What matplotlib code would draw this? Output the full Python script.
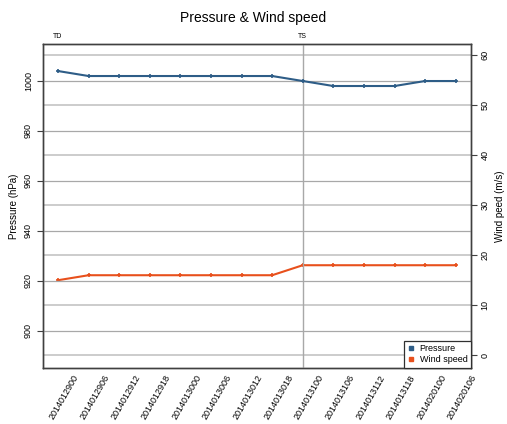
import matplotlib.pyplot as plt
import matplotlib.transforms as mtransforms

plt.rcParams['font.family'] = ['Liberation Sans', 'DejaVu Sans']

times = ["2014012900", "2014012906", "2014012912", "2014012918",
         "2014013000", "2014013006", "2014013012", "2014013018",
         "2014013100", "2014013106", "2014013112", "2014013118",
         "2014020100", "2014020106"]
pressure = [1004, 1002, 1002, 1002, 1002, 1002, 1002, 1002,
            1000, 998, 998, 998, 1000, 1000]
wind = [15, 16, 16, 16, 16, 16, 16, 16,
        18, 18, 18, 18, 18, 18]
grades = {"TD": 0, "TS": 8}

p_color = "#2e5d87"
w_color = "#e8501c"

fig = plt.figure(figsize=(5.07, 4.24), dpi=100)
ax = fig.add_axes([0.0842, 0.1328, 0.8448, 0.7627])
ax2 = ax.twinx()

x = list(range(len(times)))

# grid: left ticks and right ticks both drawn
for v in range(900, 1011, 20):
    ax.axhline(v, color="#a8a8a8", lw=0.9, zorder=0)
for v in range(0, 61, 10):
    ax2.axhline(v, color="#c4c4c4", lw=1.2, zorder=0)

ax.axvline(grades["TS"], color="#a8a8a8", lw=1.0, zorder=1)

ax.plot(x, pressure, color=p_color, lw=1.5, marker="+", ms=3.5, mew=1.2, zorder=3)
ax2.plot(x, wind, color=w_color, lw=1.5, marker="+", ms=3.5, mew=1.2, zorder=3)

ax.set_xlim(-0.5, 13.5)
ax.set_ylim(885.2, 1014.7)
ax2.set_ylim(-2.5, 62.2)

ax.set_yticks(range(900, 1001, 20))
ax2.set_yticks(range(0, 61, 10))
for a in (ax, ax2):
    a.tick_params(axis="y", labelsize=6.5, length=4, width=0.8,
                  color="#404040", labelrotation=90, pad=3)
    for lab in a.get_yticklabels():
        lab.set_va("center")
    for s in a.spines.values():
        s.set_color("#404040")
        s.set_linewidth(1.0)

ax.set_xticks(x)
ax.set_xticklabels(times, rotation=60, ha="right", rotation_mode="anchor", fontsize=6.5)
ax.tick_params(axis="x", length=0, pad=4)
offset = mtransforms.ScaledTranslation(0.15, 0, fig.dpi_scale_trans)
for lab in ax.get_xticklabels():
    lab.set_transform(lab.get_transform() + offset)

ax.set_ylabel("Pressure (hPa)", fontsize=7)
ax.yaxis.set_label_coords(-0.056, 0.5)
ax2.set_ylabel("Wind peed (m/s)", fontsize=7, labelpad=4)

for name, i in grades.items():
    ax.text(i, 1016.5, name, fontsize=5, ha="center", va="bottom", clip_on=False)

ax.set_zorder(ax2.get_zorder() + 1)
ax.patch.set_visible(False)

h1 = plt.Line2D([], [], color=p_color, marker="s", ms=3, lw=0)
h2 = plt.Line2D([], [], color=w_color, marker="s", ms=3, lw=0)
leg = ax.legend([h1, h2], ["Pressure", "Wind speed"], loc="lower right",
                fontsize=6.5, fancybox=False, framealpha=1, borderaxespad=0,
                handlelength=0.8, handletextpad=0.5, borderpad=0.4,
                labelspacing=0.2, edgecolor="#303030")
leg.get_frame().set_linewidth(0.9)

fig.suptitle("Pressure & Wind speed", y=0.975, fontsize=10)

fig.savefig("out.png", dpi=100)
